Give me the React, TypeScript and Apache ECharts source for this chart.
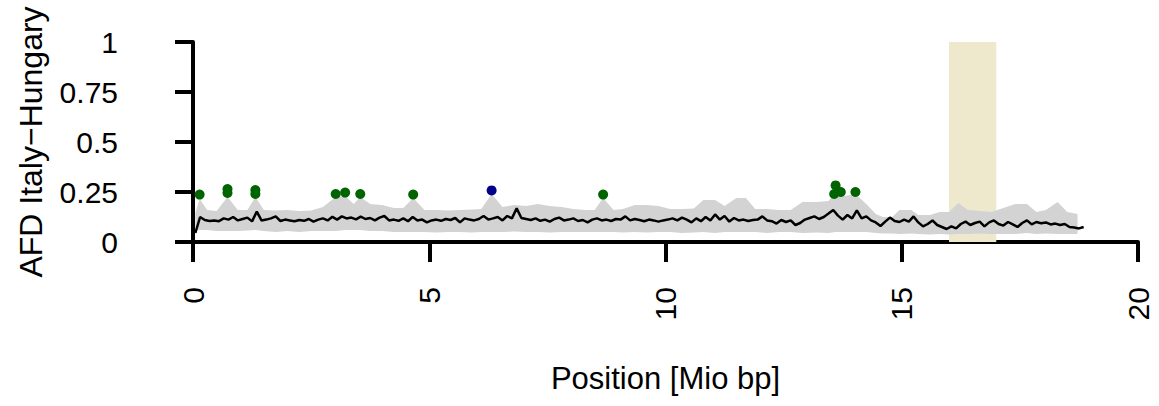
import React, { useEffect, useRef } from "react";
import * as echarts from "echarts";

// Mean AFD line, sampled every 0.1 Mio bp starting at 0.05
const lineStart = 0.05;
const lineStep = 0.1;
const afdMean = [
  0.045, 0.125, 0.11, 0.105, 0.108, 0.104, 0.118, 0.112, 0.125, 0.108,
  0.115, 0.122, 0.103, 0.152, 0.108, 0.112, 0.118, 0.128, 0.105, 0.112,
  0.108, 0.104, 0.11, 0.106, 0.115, 0.102, 0.112, 0.118, 0.108, 0.126,
  0.112, 0.128, 0.118, 0.122, 0.113, 0.127, 0.115, 0.12, 0.108, 0.122,
  0.13, 0.108, 0.112, 0.106, 0.118, 0.104, 0.125, 0.108, 0.112, 0.098,
  0.108, 0.112, 0.106, 0.115, 0.11, 0.12, 0.098, 0.118, 0.112, 0.108,
  0.115, 0.13, 0.112, 0.118, 0.125, 0.108, 0.13, 0.118, 0.168, 0.12,
  0.115, 0.11, 0.118, 0.106, 0.112, 0.102, 0.115, 0.122, 0.108, 0.112,
  0.118, 0.105, 0.11, 0.098, 0.112, 0.118, 0.108, 0.112, 0.105, 0.115,
  0.112, 0.128, 0.108, 0.115, 0.11, 0.104, 0.112, 0.108, 0.102, 0.108,
  0.112, 0.118, 0.108, 0.122, 0.112, 0.098, 0.118, 0.104, 0.125, 0.108,
  0.138, 0.112, 0.13, 0.102, 0.12, 0.108, 0.112, 0.105, 0.11, 0.112,
  0.128, 0.108, 0.104, 0.092, 0.11, 0.1, 0.108, 0.085, 0.095, 0.112,
  0.12, 0.128, 0.115, 0.125, 0.142, 0.16, 0.132, 0.112, 0.135, 0.118,
  0.158, 0.118, 0.128, 0.108, 0.098, 0.08, 0.102, 0.122, 0.105, 0.1,
  0.112, 0.102, 0.128, 0.098, 0.078, 0.09, 0.108, 0.085, 0.075, 0.065,
  0.078, 0.068, 0.09, 0.102, 0.085, 0.095, 0.102, 0.078, 0.098, 0.108,
  0.09, 0.082, 0.1, 0.088, 0.075, 0.095, 0.108, 0.088, 0.1, 0.094,
  0.098, 0.088, 0.092, 0.085, 0.09, 0.075, 0.072, 0.068, 0.075,
];

// Grey band (range) around the mean
const bandPositions = [
  0.05, 0.14, 0.3, 0.5, 0.73, 0.95, 1.15, 1.32, 1.5, 1.75,
  2.0, 2.25, 2.5, 2.75, 3.02, 3.22, 3.4, 3.54, 3.75, 4.0,
  4.25, 4.45, 4.66, 4.9, 5.15, 5.4, 5.65, 5.9, 6.1, 6.32,
  6.55, 6.8, 7.05, 7.3, 7.55, 7.8, 8.05, 8.3, 8.5, 8.68,
  8.9, 9.1, 9.35, 9.6, 9.85, 10.1, 10.35, 10.6, 10.8, 11.05,
  11.25, 11.5, 11.7, 11.9, 12.15, 12.4, 12.65, 12.9, 13.2, 13.45,
  13.6, 13.8, 14.02, 14.25, 14.45, 14.6, 14.8, 14.95, 15.2, 15.35,
  15.6, 15.8, 16.0, 16.2, 16.4, 16.65, 16.9, 17.15, 17.4, 17.65,
  17.85, 18.05, 18.3, 18.5, 18.72,
];
const bandUpper = [
  0.145, 0.215, 0.16, 0.155, 0.225, 0.16, 0.16, 0.225, 0.16, 0.158,
  0.16, 0.155, 0.158, 0.175, 0.225, 0.23, 0.19, 0.225, 0.19, 0.185,
  0.17, 0.17, 0.22, 0.16, 0.16, 0.158, 0.16, 0.162, 0.165, 0.24,
  0.175, 0.185, 0.18, 0.19, 0.18, 0.175, 0.165, 0.16, 0.16, 0.22,
  0.16, 0.165, 0.185, 0.185, 0.18, 0.165, 0.165, 0.168, 0.21, 0.21,
  0.18, 0.22, 0.22, 0.165, 0.165, 0.16, 0.16, 0.2, 0.2, 0.205,
  0.25, 0.23, 0.24, 0.19, 0.14, 0.125, 0.125, 0.16, 0.16, 0.135,
  0.135, 0.15, 0.15, 0.195, 0.16, 0.155, 0.15, 0.17, 0.19, 0.19,
  0.15, 0.16, 0.2, 0.15, 0.14,
];
const bandLower = [
  0.062, 0.06, 0.06, 0.055, 0.055, 0.055, 0.058, 0.06, 0.055, 0.05,
  0.055, 0.05, 0.055, 0.055, 0.055, 0.06, 0.06, 0.06, 0.055, 0.055,
  0.05, 0.05, 0.05, 0.05, 0.048, 0.05, 0.05, 0.048, 0.05, 0.05,
  0.05, 0.052, 0.05, 0.05, 0.048, 0.05, 0.05, 0.05, 0.05, 0.05,
  0.05, 0.048, 0.05, 0.048, 0.05, 0.05, 0.045, 0.048, 0.05, 0.045,
  0.05, 0.05, 0.05, 0.05, 0.045, 0.05, 0.05, 0.045, 0.048, 0.045,
  0.05, 0.05, 0.05, 0.05, 0.045, 0.042, 0.042, 0.04, 0.042, 0.04,
  0.038, 0.04, 0.038, 0.04, 0.04, 0.042, 0.04, 0.04, 0.04, 0.045,
  0.04, 0.042, 0.04, 0.04, 0.04,
];

// Outlier windows
const greenPoints = [
  [0.14, 0.237], [0.73, 0.265], [0.73, 0.245], [1.32, 0.26], [1.32, 0.24],
  [3.02, 0.24], [3.22, 0.247], [3.54, 0.24], [4.66, 0.237], [8.68, 0.237],
  [13.6, 0.283], [13.71, 0.25], [13.57, 0.24], [14.02, 0.25],
];
const bluePoints = [[6.32, 0.258]];

// Highlighted region [start, end] in Mio bp, spanning AFD 0..1
const region = [16, 17];
const regionAfd = [0, 1];

const yTicks = [0, 0.25, 0.5, 0.75, 1];
const xTicks = [0, 5, 10, 15, 20];

const FONT = "'Liberation Sans', Arial, sans-serif";

export default function App() {
  const ref = useRef<HTMLDivElement>(null);

  useEffect(() => {
    document.body.style.margin = "0";
    if (!ref.current) return;
    const chart = echarts.init(ref.current, null, { renderer: "svg" });

    const lineData = afdMean.map((v, i) => [lineStart + i * lineStep, v]);

    chart.setOption({
      animation: false,
      grid: { left: 193, right: 21, top: 42, bottom: 164, containLabel: false },
      xAxis: {
        type: "value",
        min: xTicks[0],
        max: xTicks[xTicks.length - 1],
        interval: 5,
        offset: 8,
        name: "Position [Mio bp]",
        nameLocation: "middle",
        nameGap: 113,
        nameTextStyle: { fontFamily: FONT, fontSize: 31, color: "#000" },
        axisLine: { show: true, lineStyle: { color: "#000", width: 4 } },
        axisTick: { show: true, length: 20, lineStyle: { color: "#000", width: 4 } },
        axisLabel: {
          rotate: 90,
          margin: 37,
          fontFamily: FONT,
          fontSize: 30,
          color: "#000",
        },
        splitLine: { show: false },
      },
      yAxis: {
        type: "value",
        min: yTicks[0],
        max: yTicks[yTicks.length - 1],
        interval: 0.25,
        offset: 38,
        name: "AFD Italy\u2212Hungary",
        nameLocation: "middle",
        nameGap: 108,
        nameTextStyle: { fontFamily: FONT, fontSize: 32, color: "#000" },
        axisLine: { show: true, lineStyle: { color: "#000", width: 4 } },
        axisTick: { show: true, length: 18, lineStyle: { color: "#000", width: 4 } },
        axisLabel: { margin: 37, fontFamily: FONT, fontSize: 30, color: "#000" },
        splitLine: { show: false },
      },
      series: [
        {
          type: "custom",
          z: 1,
          silent: true,
          data: [[region[0], regionAfd[0], region[1], regionAfd[1]]],
          renderItem: (params: any, api: any) => {
            const p0 = api.coord([api.value(0), api.value(1)]);
            const p1 = api.coord([api.value(2), api.value(3)]);
            return {
              type: "rect",
              shape: {
                x: p0[0],
                y: p1[1],
                width: p1[0] - p0[0],
                height: p0[1] - p1[1],
              },
              style: { fill: "#EEE8CD" },
            };
          },
        },
        {
          type: "custom",
          z: 2,
          silent: true,
          data: [[bandPositions[0], bandLower[0]]],
          renderItem: (params: any, api: any) => {
            const pts: number[][] = [];
            for (let i = 0; i < bandPositions.length; i++) {
              pts.push(api.coord([bandPositions[i], bandUpper[i]]));
            }
            for (let i = bandPositions.length - 1; i >= 0; i--) {
              pts.push(api.coord([bandPositions[i], bandLower[i]]));
            }
            return {
              type: "polygon",
              shape: { points: pts },
              style: { fill: "#D3D3D3", stroke: "none" },
            };
          },
        },
        {
          type: "line",
          z: 3,
          data: lineData,
          symbol: "none",
          lineStyle: { color: "#000", width: 2.5 },
          silent: true,
        },
        {
          type: "scatter",
          z: 4,
          data: greenPoints,
          symbolSize: 10,
          itemStyle: { color: "#006400", opacity: 1 },
          silent: true,
        },
        {
          type: "scatter",
          z: 4,
          data: bluePoints,
          symbolSize: 10,
          itemStyle: { color: "#00008B", opacity: 1 },
          silent: true,
        },
      ],
    });

    return () => chart.dispose();
  }, []);

  return <div ref={ref} style={{ width: 1159, height: 406 }} />;
}
